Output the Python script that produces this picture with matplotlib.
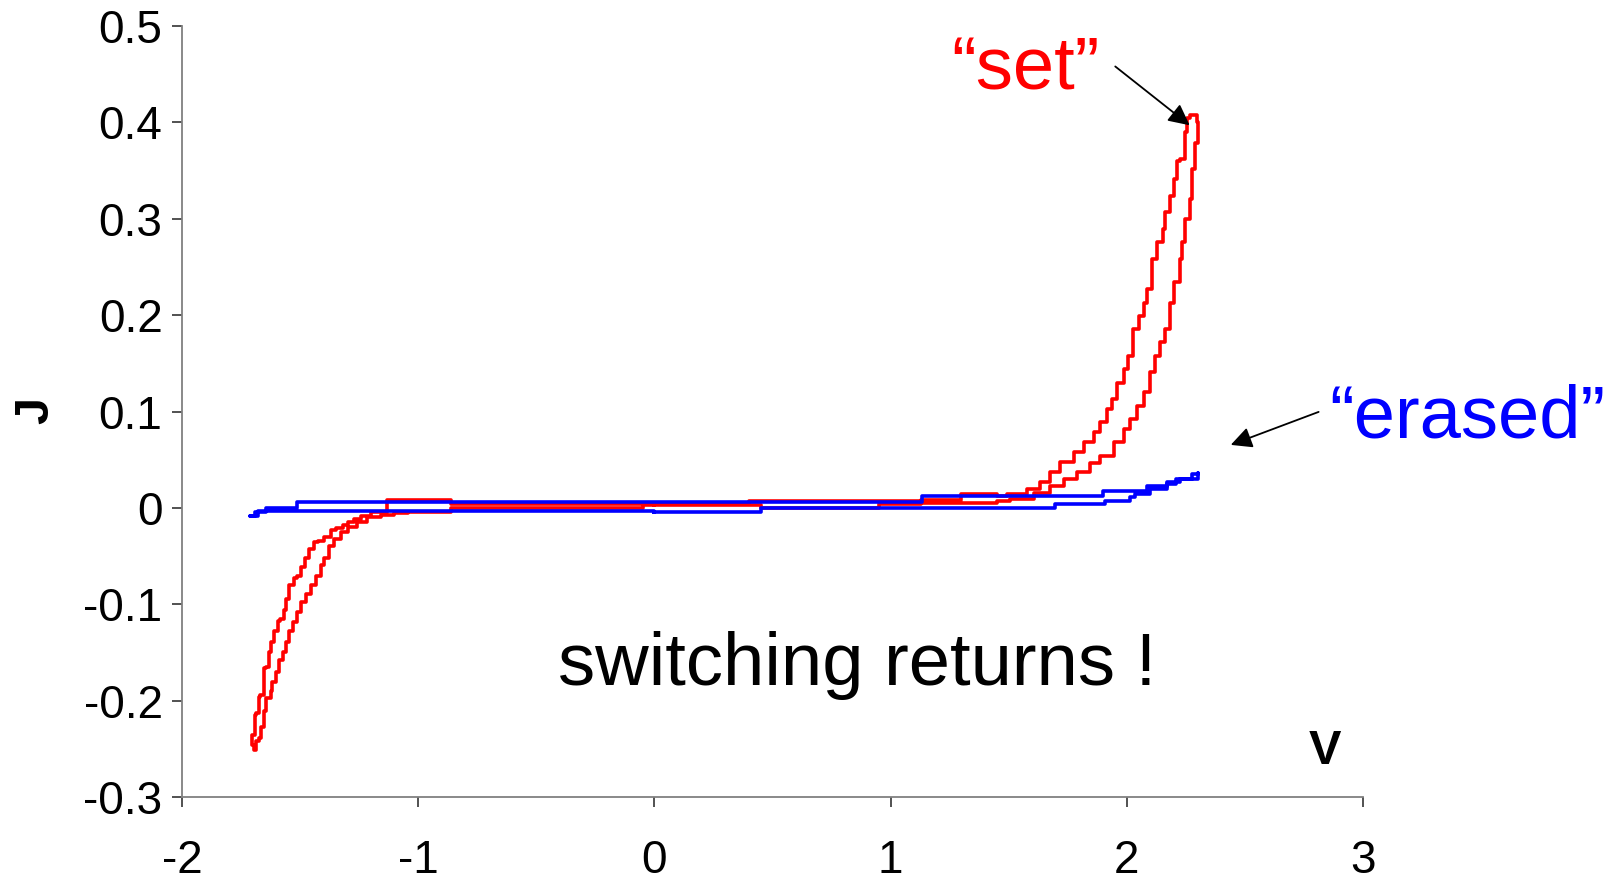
import matplotlib
matplotlib.use("Agg")
import matplotlib.pyplot as plt

plt.rcParams['font.family'] = ['Liberation Sans', 'DejaVu Sans']
plt.rcParams['axes.unicode_minus'] = False

# "set" loop (red): V, J points going round the loop
red_v = [0.00, 0.45, 0.95, 1.13, 1.45,
         1.507, 1.606, 1.676, 1.732, 1.789, 1.845, 1.887, 1.944, 1.986, 2.014,
         2.043, 2.071, 2.099, 2.120, 2.141, 2.162, 2.183, 2.198, 2.226, 2.233,
         2.247, 2.268, 2.275, 2.289, 2.303, 2.303, 2.295,
         2.268, 2.254, 2.247, 2.226, 2.212, 2.198, 2.183, 2.162, 2.153, 2.127,
         2.106, 2.085, 2.071, 2.050, 2.028, 2.007, 1.986, 1.958, 1.937, 1.916,
         1.887, 1.859, 1.817, 1.775, 1.718, 1.676, 1.634, 1.577, 1.493,
         1.45, 1.30, 1.13, 0.65, 0.40, 0.00, -0.40, -0.86, -1.05,
         -1.130, -1.200, -1.243, -1.271, -1.299, -1.320, -1.349, -1.370, -1.398,
         -1.426, -1.440, -1.462, -1.480, -1.497, -1.511, -1.525, -1.546, -1.560,
         -1.570, -1.584, -1.595, -1.610, -1.624, -1.631, -1.645, -1.654, -1.669,
         -1.673, -1.687, -1.691, -1.705, -1.705, -1.695,
         -1.687, -1.687, -1.673, -1.666, -1.652, -1.645, -1.624, -1.617, -1.603,
         -1.588, -1.574, -1.560, -1.546, -1.532, -1.511, -1.497, -1.476, -1.455,
         -1.434, -1.413, -1.398, -1.377, -1.356, -1.327, -1.299, -1.257, -1.215,
         -1.158, -1.101, -1.045,
         -0.86, -0.40, -0.05, 0.00]
red_j = [0.003, 0.000, 0.004, 0.005, 0.007,
         0.009, 0.016, 0.023, 0.030, 0.037, 0.047, 0.054, 0.068, 0.082, 0.092,
         0.106, 0.120, 0.141, 0.158, 0.172, 0.186, 0.213, 0.234, 0.258, 0.276,
         0.300, 0.321, 0.352, 0.379, 0.381, 0.400, 0.408,
         0.405, 0.390, 0.362, 0.360, 0.341, 0.324, 0.307, 0.289, 0.276, 0.258,
         0.227, 0.213, 0.199, 0.186, 0.158, 0.144, 0.130, 0.113, 0.103, 0.089,
         0.079, 0.068, 0.058, 0.048, 0.037, 0.027, 0.020, 0.015, 0.013,
         0.015, 0.008, 0.007, 0.007, 0.004, 0.0045, 0.0045, 0.008, 0.008,
         -0.004, -0.008, -0.011, -0.015, -0.018, -0.021, -0.023, -0.030, -0.034,
         -0.035, -0.042, -0.052, -0.061, -0.070, -0.073, -0.080, -0.094, -0.106,
         -0.115, -0.117, -0.128, -0.139, -0.149, -0.165, -0.166, -0.194, -0.196,
         -0.213, -0.215, -0.235, -0.237, -0.246, -0.251,
         -0.249, -0.242, -0.239, -0.227, -0.211, -0.197, -0.190, -0.180, -0.170,
         -0.158, -0.149, -0.139, -0.128, -0.118, -0.108, -0.097, -0.089, -0.080,
         -0.070, -0.059, -0.052, -0.039, -0.032, -0.025, -0.020, -0.015, -0.009,
         -0.007, -0.005, -0.004,
         0.000, 0.000, 0.003, 0.003]

# "erased" loop (blue)
blue_v = [0.00, 0.45, 1.695, 1.907, 2.014, 2.035, 2.10, 2.17, 2.21, 2.30,
          2.30, 2.275, 2.226, 2.17, 2.085, 1.90, 1.133, -1.511, -1.645, -1.69,
          -1.71, -1.68, 0.00]
blue_j = [-0.004, 0.000, 0.004, 0.0076, 0.011, 0.0145, 0.020, 0.025, 0.030, 0.036,
          0.035, 0.030, 0.027, 0.023, 0.018, 0.012, 0.006, 0.000, -0.004, -0.008,
          -0.008, -0.003, -0.004]

x_ticks = [-2, -1, 0, 1, 2, 3]
y_ticks = [-0.3, -0.2, -0.1, 0, 0.1, 0.2, 0.3, 0.4, 0.5]
y_tick_labels = ['-0.3', '-0.2', '-0.1', '0', '0.1', '0.2', '0.3', '0.4', '0.5']

fig = plt.figure(figsize=(16.19, 8.8), dpi=100)
ax = fig.add_axes([0.1124, 0.094, 0.7295, 0.8765])

ax.plot(red_v, red_j, color='#ff0000', lw=2.6, drawstyle='steps-post')
ax.plot(blue_v, blue_j, color='#0000ff', lw=2.6, drawstyle='steps-post')

ax.set_xlim(-2, 3)
ax.set_ylim(-0.3, 0.5)
ax.set_xticks(x_ticks)
ax.set_xticklabels([str(t) for t in x_ticks])
ax.set_yticks(y_ticks)
ax.set_yticklabels(y_tick_labels)

for side in ['top', 'right']:
    ax.spines[side].set_visible(False)
for side in ['left', 'bottom']:
    ax.spines[side].set_color('#808080')
    ax.spines[side].set_linewidth(1.3)

ax.tick_params(axis='y', direction='out', length=7, width=1.2, color='#333333',
               labelsize=33, pad=7)
ax.tick_params(axis='x', direction='out', length=7, width=1.2, color='#333333',
               labelsize=33, pad=23)

# labels and notes
fig.text(0.022, 0.534, 'J', rotation=90, fontsize=35, fontweight='bold',
         ha='center', va='center')
ax.text(2.839, -0.253, 'V', fontsize=35, fontweight='bold', ha='center', va='center')

ax.text(0.86, -0.1835, 'switching returns !', fontsize=53.5, ha='center', va='baseline')
ax.text(1.57, 0.434, '\u201cset\u201d', fontsize=53.5, color='#ff0000',
        ha='center', va='baseline')
ax.text(3.44, 0.073, '\u201cerased\u201d', fontsize=53.5, color='#0000ff',
        ha='center', va='baseline', clip_on=False)

arrow = dict(arrowstyle='-|>', color='black', lw=1.3, mutation_scale=32,
             shrinkA=0, shrinkB=0)
ax.annotate('', xy=(2.266, 0.397), xytext=(1.951, 0.458), arrowprops=arrow)
ax.annotate('', xy=(2.440, 0.0655), xytext=(2.812, 0.0997), arrowprops=arrow,
            annotation_clip=False)

fig.savefig('out.png', dpi=100)
